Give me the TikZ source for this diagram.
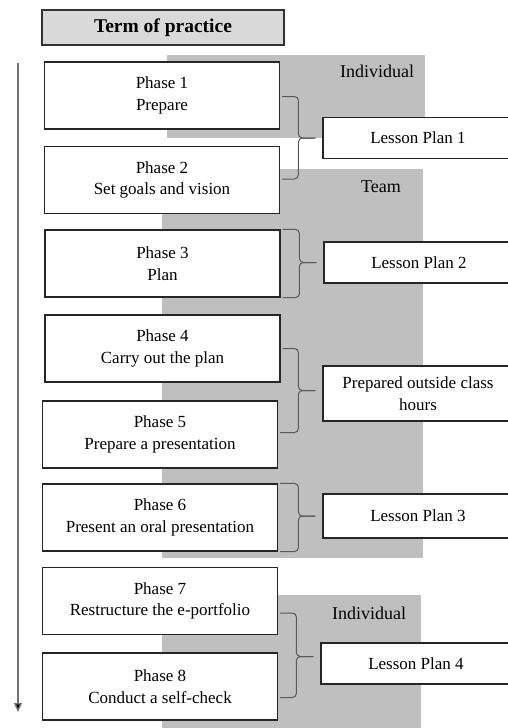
\documentclass[tikz,border=0pt]{standalone}
\usepackage{fontspec}
\setmainfont{Liberation Serif}
\usetikzlibrary{arrows, arrows.meta}
\usetikzlibrary{calc}

\tikzset{
  phase/.style={draw=black!85, line width=1.2pt, fill=white, inner sep=0pt, align=center,
    minimum width=235pt, minimum height=67pt, font=\fontsize{17}{21.5}\selectfont},
  plan/.style={draw=black!85, line width=1.2pt, fill=white, inner sep=0pt, align=center,
    minimum width=190pt, minimum height=41pt, font=\fontsize{17}{21.5}\selectfont},
  zone/.style={fill=black!25, draw=none},
  zonelabel/.style={inner sep=0pt, font=\fontsize{18}{20}\selectfont},
  bracket/.style={draw=black!65, line width=1pt, rounded corners=4pt},
  timeline/.style={draw=black!55, line width=1.4pt, -{Triangle[length=9pt, width=8pt, fill=black]}}
}

\begin{document}
\begin{tikzpicture}[x=1pt, y=-1pt]
      \useasboundingbox (0,0) rectangle (508,728);

      \fill[zone] (167,55) rectangle (425,138);
      \fill[zone] (162,169) rectangle (423,558);
      \fill[zone] (162,595) rectangle (421,730);

      \node[draw=black!80, line width=1.2pt, fill=black!15, minimum width=242pt, minimum height=35pt,
        inner sep=0pt, font=\fontsize{19.5}{21}\selectfont\bfseries] (title) at (163,27.5) {Term of practice};

      \node[zonelabel] (ind1) at (377,71) {Individual};
      \node[zonelabel] (team) at (381,187) {Team};
      \node[zonelabel] (ind2) at (369,613) {Individual};

      \node[phase] (p1) at (162,95.5) {Phase 1\\Prepare};
      \node[phase] (p2) at (162,180) {Phase 2\\Set goals and vision};
      \node[phase] (p3) at (162.5,263.5) {Phase 3\\Plan};
      \node[phase] (p4) at (162.5,348.5) {Phase 4\\Carry out the plan};
      \node[phase] (p5) at (160,434.5) {Phase 5\\Prepare a presentation};
      \node[phase] (p6) at (160,517.5) {Phase 6\\Present an oral presentation};
      \node[phase] (p7) at (160,601) {Phase 7\\Restructure the e-portfolio};
      \node[phase] (p8) at (160,686.5) {Phase 8\\Conduct a self-check};

      \node[plan] (lp1) at (418,138) {Lesson Plan 1};
      \node[plan] (lp2) at (419,262.5) {Lesson Plan 2};
      \node[plan, minimum height=55pt] (out) at (418,393.5) {Prepared outside class\\hours};
      \node[plan, minimum height=44pt] (lp3) at (418,516) {Lesson Plan 3};
      \node[plan] (lp4) at (416,663.5) {Lesson Plan 4};

      \coordinate (start) at (18,63);
      \coordinate (finish) at (18,712);
      \draw[timeline] (start) -- (finish);

      \draw[bracket] ($(p1.east)+(2,1)$) -| ($(lp1.west)+(-24,0)$) -- ($(lp1.west)+(-7,0)$);
      \draw[bracket] ($(p2.east)+(2,-1)$) -| ($(lp1.west)+(-24,0)$) -- ($(lp1.west)+(-7,0)$);
      \draw[bracket] ($(p3.north east)+(2,0)$) -| ($(lp2.west)+(-24,0)$) -- ($(lp2.west)+(-7,0)$);
      \draw[bracket] ($(p3.south east)+(2,0)$) -| ($(lp2.west)+(-24,0)$) -- ($(lp2.west)+(-7,0)$);
      \draw[bracket] ($(p4.east)+(2,0)$) -| ($(out.west)+(-24,-3)$) -- ($(out.west)+(-7,-3)$);
      \draw[bracket] ($(p5.east)+(2,-2)$) -| ($(out.west)+(-24,-3)$) -- ($(out.west)+(-7,-3)$);
      \draw[bracket] ($(p6.north east)+(2,0)$) -| ($(lp3.west)+(-24,0)$) -- ($(lp3.west)+(-7,0)$);
      \draw[bracket] ($(p6.south east)+(2,0)$) -| ($(lp3.west)+(-24,0)$) -- ($(lp3.west)+(-7,0)$);
      \draw[bracket] ($(p7.east)+(2,12)$) -| ($(lp4.west)+(-24,-7)$) -- ($(lp4.west)+(-7,-7)$);
      \draw[bracket] ($(p8.east)+(2,11)$) -| ($(lp4.west)+(-24,-7)$) -- ($(lp4.west)+(-7,-7)$);
    \end{tikzpicture}
\end{document}
